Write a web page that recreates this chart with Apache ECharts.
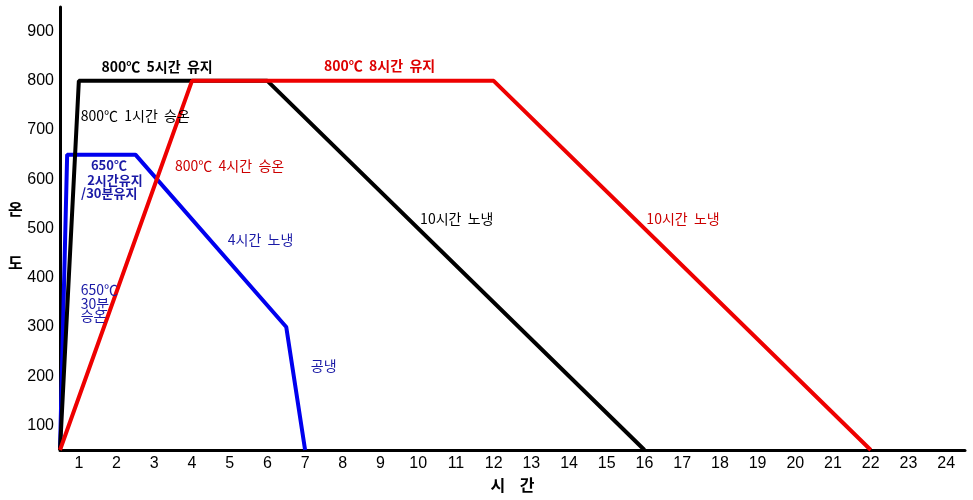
<!DOCTYPE html>
<html>
<head>
<meta charset="utf-8">
<script src="https://cdn.jsdelivr.net/npm/echarts@6/dist/echarts.min.js"></script>
<style>
  html, body { margin: 0; padding: 0; background: #fff; }
  #echart { width: 973px; height: 500px; }
</style>
</head>
<body>
<div id="echart"></div>
<script>
// 열처리 곡선 (시간, 온도)
let black800 = [[0.5, 50], [1, 800], [6, 800], [16, 50]];
let red800 = [[0.5, 50], [4, 800], [12, 800], [22, 50]];
let blue650 = [[0.5, 50], [0.69, 650], [2.5, 650], [6.5, 300], [7, 50]];

let xTicks = [1, 2, 3, 4, 5, 6, 7, 8, 9, 10, 11, 12, 13, 14, 15, 16, 17, 18, 19, 20, 21, 22, 23, 24];
let yTicks = [100, 200, 300, 400, 500, 600, 700, 800, 900];

// 주석: [글자, 시간, 온도, 색, 굵게, 글자크기]
let notes = [
	['800℃  5시간  유지', 1.6, 828, '#000000', true, 14],
	['800℃  8시간  유지', 7.5, 830, '#dd0000', true, 14],
	['800℃  1시간  승온', 1.05, 730, '#000000', false, 14],
	['800℃  4시간  승온', 3.55, 627, '#cc0000', false, 14],
	['650℃', 1.32, 628, '#1a1aa6', true, 13],
	['2시간유지', 1.22, 598, '#1a1aa6', true, 13],
	['/30분유지', 1.06, 573, '#1a1aa6', true, 13],
	['4시간  노냉', 4.95, 477, '#1a1aa6', false, 14],
	['650℃', 1.05, 375, '#1a1aa6', false, 14],
	['30분', 1.05, 348, '#1a1aa6', false, 14],
	['승온', 1.05, 322, '#1a1aa6', false, 14],
	['공냉', 7.15, 222, '#1a1aa6', false, 14],
	['10시간  노냉', 10.05, 519, '#000000', false, 14],
	['10시간  노냉', 16.05, 519, '#cc0000', false, 14]
];

let dom = document.getElementById('echart');
let myChart = echarts.init(dom);

let option = {
	animation: false,
	grid: {
		left: 60,
		right: 8,
		top: 7,
		bottom: 50
	},
	xAxis: {
		type: 'value',
		min: 0.5,
		max: 24.5,
		interval: 0.5,
		name: '시    간',
		nameLocation: 'middle',
		nameGap: 25,
		nameTextStyle: {
			color: '#000',
			fontSize: 16,
			fontWeight: 'bold',
			fontFamily: 'Noto Sans CJK KR'
		},
		axisLine: {
			lineStyle: { color: '#000', width: 3 }
		},
		axisTick: { show: false },
		splitLine: { show: false },
		axisLabel: {
			color: '#000',
			fontSize: 16,
			fontFamily: 'Liberation Sans',
			margin: 6,
			showMinLabel: false,
			showMaxLabel: false,
			formatter: function(v) {
				return xTicks.indexOf(v) >= 0 ? String(v) : '';
			}
		}
	},
	yAxis: {
		type: 'value',
		min: 50,
		max: 950,
		interval: 50,
		axisLine: {
			show: true,
			lineStyle: { color: '#000', width: 3 }
		},
		axisTick: { show: false },
		splitLine: { show: false },
		axisLabel: {
			color: '#000',
			fontSize: 16,
			fontFamily: 'Liberation Sans',
			margin: 6,
			formatter: function(v) {
				return yTicks.indexOf(v) >= 0 ? String(v) : '';
			}
		}
	},
	graphic: [
		{
			type: 'text',
			left: 8,
			top: 200,
			style: {
				text: '온\n\n\n도',
				fill: '#000',
				fontSize: 16,
				fontWeight: 'bold',
				lineHeight: 18,
				fontFamily: 'Noto Sans CJK KR'
			}
		}
	],
	series: [
		{
			name: 'black',
			type: 'line',
			data: black800,
			symbol: 'none',
			lineStyle: { color: '#000000', width: 4 },
			z: 3
		},
		{
			name: 'blue',
			type: 'line',
			data: blue650,
			symbol: 'none',
			lineStyle: { color: '#0000ee', width: 4 },
			z: 2
		},
		{
			name: 'red',
			type: 'line',
			data: red800,
			symbol: 'none',
			lineStyle: { color: '#ee0000', width: 4 },
			z: 4
		}
	]
};

myChart.setOption(option);

// 주석은 데이터 좌표로 배치
let texts = notes.map(function(n) {
	let p = myChart.convertToPixel({ gridIndex: 0 }, [n[1], n[2]]);
	return {
		type: 'text',
		x: p[0],
		y: p[1],
		z: 10,
		style: {
			text: n[0],
			fill: n[3],
			fontSize: n[5],
			fontWeight: n[4] ? 'bold' : 'normal',
			fontFamily: 'Noto Sans CJK KR',
			textAlign: 'left',
			textVerticalAlign: 'middle'
		}
	};
});
myChart.setOption({ graphic: option.graphic.concat(texts) });
</script>
</body>
</html>
